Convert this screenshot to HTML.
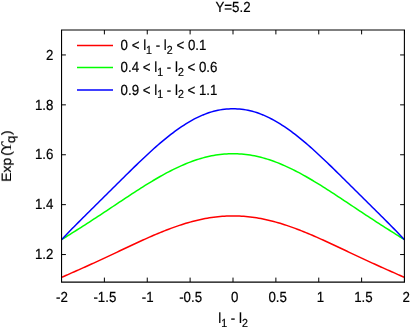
<!DOCTYPE html>
<html><head><meta charset="utf-8"><title>plot</title>
<style>
html,body{margin:0;padding:0;background:#fff;}
body{width:410px;height:327px;overflow:hidden;}
svg{display:block;}
text{font-family:"Liberation Sans",sans-serif;fill:#000;stroke:#000;stroke-width:0.2px;filter:url(#tf);text-rendering:geometricPrecision;}
</style></head><body>
<svg width="410" height="327" viewBox="0 0 410 327">
<defs><filter id="tf" x="-10%" y="-30%" width="120%" height="160%"><feGaussianBlur stdDeviation="0.22"/></filter></defs>
<rect width="410" height="327" fill="#fff"/>
<path d="M61.50,277.44 L63.64,276.48 L65.79,275.53 L67.93,274.57 L70.08,273.62 L72.22,272.67 L74.36,271.72 L76.51,270.77 L78.65,269.82 L80.79,268.87 L82.94,267.91 L85.08,266.95 L87.23,265.98 L89.37,265.01 L91.51,264.04 L93.66,263.06 L95.80,262.08 L97.94,261.09 L100.09,260.10 L102.23,259.11 L104.38,258.11 L106.52,257.11 L108.66,256.10 L110.81,255.10 L112.95,254.09 L115.09,253.07 L117.24,252.06 L119.38,251.05 L121.53,250.03 L123.67,249.02 L125.81,248.01 L127.96,247.00 L130.10,245.99 L132.24,244.99 L134.39,243.99 L136.53,242.99 L138.68,242.00 L140.82,241.02 L142.96,240.04 L145.11,239.08 L147.25,238.12 L149.39,237.17 L151.54,236.23 L153.68,235.30 L155.82,234.39 L157.97,233.48 L160.11,232.60 L162.26,231.72 L164.40,230.87 L166.54,230.03 L168.69,229.20 L170.83,228.40 L172.98,227.61 L175.12,226.85 L177.26,226.10 L179.41,225.38 L181.55,224.67 L183.69,223.99 L185.84,223.34 L187.98,222.71 L190.12,222.10 L192.27,221.52 L194.41,220.96 L196.56,220.43 L198.70,219.93 L200.84,219.46 L202.99,219.01 L205.13,218.59 L207.28,218.20 L209.42,217.85 L211.56,217.52 L213.71,217.22 L215.85,216.95 L217.99,216.71 L220.14,216.51 L222.28,216.33 L224.42,216.19 L226.57,216.08 L228.71,216.00 L230.86,215.95 L233.00,215.93 L235.14,215.95 L237.29,216.00 L239.43,216.08 L241.58,216.19 L243.72,216.33 L245.86,216.51 L248.01,216.71 L250.15,216.95 L252.29,217.22 L254.44,217.52 L256.58,217.85 L258.73,218.20 L260.87,218.59 L263.01,219.01 L265.16,219.46 L267.30,219.93 L269.44,220.43 L271.59,220.96 L273.73,221.52 L275.88,222.10 L278.02,222.71 L280.16,223.34 L282.31,223.99 L284.45,224.67 L286.59,225.38 L288.74,226.10 L290.88,226.85 L293.02,227.61 L295.17,228.40 L297.31,229.20 L299.46,230.03 L301.60,230.87 L303.74,231.72 L305.89,232.60 L308.03,233.48 L310.17,234.39 L312.32,235.30 L314.46,236.23 L316.61,237.17 L318.75,238.12 L320.89,239.08 L323.04,240.04 L325.18,241.02 L327.32,242.00 L329.47,242.99 L331.61,243.99 L333.76,244.99 L335.90,245.99 L338.04,247.00 L340.19,248.01 L342.33,249.02 L344.47,250.03 L346.62,251.05 L348.76,252.06 L350.91,253.07 L353.05,254.09 L355.19,255.10 L357.34,256.10 L359.48,257.11 L361.62,258.11 L363.77,259.11 L365.91,260.10 L368.06,261.09 L370.20,262.08 L372.34,263.06 L374.49,264.04 L376.63,265.01 L378.78,265.98 L380.92,266.95 L383.06,267.91 L385.21,268.87 L387.35,269.82 L389.49,270.77 L391.64,271.72 L393.78,272.67 L395.93,273.62 L398.07,274.57 L400.21,275.53 L402.36,276.48 L404.50,277.44" fill="none" stroke="#ff0000" stroke-width="1.5" stroke-linejoin="round"/>
<path d="M61.50,239.71 L63.64,238.35 L65.79,237.00 L67.93,235.66 L70.08,234.31 L72.22,232.96 L74.36,231.60 L76.51,230.25 L78.65,228.89 L80.79,227.52 L82.94,226.16 L85.08,224.78 L87.23,223.40 L89.37,222.02 L91.51,220.63 L93.66,219.24 L95.80,217.84 L97.94,216.43 L100.09,215.02 L102.23,213.61 L104.38,212.19 L106.52,210.77 L108.66,209.35 L110.81,207.92 L112.95,206.50 L115.09,205.07 L117.24,203.64 L119.38,202.21 L121.53,200.79 L123.67,199.36 L125.81,197.94 L127.96,196.53 L130.10,195.11 L132.24,193.71 L134.39,192.31 L136.53,190.92 L138.68,189.54 L140.82,188.17 L142.96,186.82 L145.11,185.47 L147.25,184.14 L149.39,182.82 L151.54,181.52 L153.68,180.24 L155.82,178.98 L157.97,177.73 L160.11,176.51 L162.26,175.30 L164.40,174.12 L166.54,172.96 L168.69,171.83 L170.83,170.73 L172.98,169.65 L175.12,168.59 L177.26,167.57 L179.41,166.58 L181.55,165.62 L183.69,164.69 L185.84,163.79 L187.98,162.92 L190.12,162.09 L192.27,161.30 L194.41,160.54 L196.56,159.82 L198.70,159.13 L200.84,158.49 L202.99,157.88 L205.13,157.31 L207.28,156.78 L209.42,156.29 L211.56,155.85 L213.71,155.44 L215.85,155.07 L217.99,154.75 L220.14,154.47 L222.28,154.23 L224.42,154.04 L226.57,153.89 L228.71,153.78 L230.86,153.71 L233.00,153.69 L235.14,153.71 L237.29,153.78 L239.43,153.89 L241.58,154.04 L243.72,154.23 L245.86,154.47 L248.01,154.75 L250.15,155.07 L252.29,155.44 L254.44,155.85 L256.58,156.29 L258.73,156.78 L260.87,157.31 L263.01,157.88 L265.16,158.49 L267.30,159.13 L269.44,159.82 L271.59,160.54 L273.73,161.30 L275.88,162.09 L278.02,162.92 L280.16,163.79 L282.31,164.69 L284.45,165.62 L286.59,166.58 L288.74,167.57 L290.88,168.59 L293.02,169.65 L295.17,170.73 L297.31,171.83 L299.46,172.96 L301.60,174.12 L303.74,175.30 L305.89,176.51 L308.03,177.73 L310.17,178.98 L312.32,180.24 L314.46,181.52 L316.61,182.82 L318.75,184.14 L320.89,185.47 L323.04,186.82 L325.18,188.17 L327.32,189.54 L329.47,190.92 L331.61,192.31 L333.76,193.71 L335.90,195.11 L338.04,196.53 L340.19,197.94 L342.33,199.36 L344.47,200.79 L346.62,202.21 L348.76,203.64 L350.91,205.07 L353.05,206.50 L355.19,207.92 L357.34,209.35 L359.48,210.77 L361.62,212.19 L363.77,213.61 L365.91,215.02 L368.06,216.43 L370.20,217.84 L372.34,219.24 L374.49,220.63 L376.63,222.02 L378.78,223.40 L380.92,224.78 L383.06,226.16 L385.21,227.52 L387.35,228.89 L389.49,230.25 L391.64,231.60 L393.78,232.96 L395.93,234.31 L398.07,235.66 L400.21,237.00 L402.36,238.35 L404.50,239.71" fill="none" stroke="#00ff00" stroke-width="1.5" stroke-linejoin="round"/>
<path d="M61.50,239.82 L63.64,237.52 L65.79,235.26 L67.93,233.02 L70.08,230.80 L72.22,228.60 L74.36,226.43 L76.51,224.26 L78.65,222.11 L80.79,219.96 L82.94,217.83 L85.08,215.70 L87.23,213.57 L89.37,211.45 L91.51,209.32 L93.66,207.20 L95.80,205.08 L97.94,202.96 L100.09,200.84 L102.23,198.71 L104.38,196.58 L106.52,194.46 L108.66,192.33 L110.81,190.20 L112.95,188.07 L115.09,185.94 L117.24,183.81 L119.38,181.68 L121.53,179.55 L123.67,177.43 L125.81,175.31 L127.96,173.20 L130.10,171.10 L132.24,169.00 L134.39,166.91 L136.53,164.84 L138.68,162.77 L140.82,160.73 L142.96,158.69 L145.11,156.68 L147.25,154.68 L149.39,152.70 L151.54,150.75 L153.68,148.81 L155.82,146.91 L157.97,145.03 L160.11,143.18 L162.26,141.36 L164.40,139.58 L166.54,137.83 L168.69,136.11 L170.83,134.44 L172.98,132.80 L175.12,131.20 L177.26,129.65 L179.41,128.14 L181.55,126.67 L183.69,125.26 L185.84,123.89 L187.98,122.58 L190.12,121.32 L192.27,120.11 L194.41,118.96 L196.56,117.86 L198.70,116.82 L200.84,115.85 L202.99,114.93 L205.13,114.08 L207.28,113.29 L209.42,112.56 L211.56,111.90 L213.71,111.30 L215.85,110.76 L217.99,110.29 L220.14,109.88 L222.28,109.54 L224.42,109.26 L226.57,109.04 L228.71,108.88 L230.86,108.79 L233.00,108.76 L235.14,108.79 L237.29,108.88 L239.43,109.04 L241.58,109.26 L243.72,109.54 L245.86,109.88 L248.01,110.29 L250.15,110.76 L252.29,111.30 L254.44,111.90 L256.58,112.56 L258.73,113.29 L260.87,114.08 L263.01,114.93 L265.16,115.85 L267.30,116.82 L269.44,117.86 L271.59,118.96 L273.73,120.11 L275.88,121.32 L278.02,122.58 L280.16,123.89 L282.31,125.26 L284.45,126.67 L286.59,128.14 L288.74,129.65 L290.88,131.20 L293.02,132.80 L295.17,134.44 L297.31,136.11 L299.46,137.83 L301.60,139.58 L303.74,141.36 L305.89,143.18 L308.03,145.03 L310.17,146.91 L312.32,148.81 L314.46,150.75 L316.61,152.70 L318.75,154.68 L320.89,156.68 L323.04,158.69 L325.18,160.73 L327.32,162.77 L329.47,164.84 L331.61,166.91 L333.76,169.00 L335.90,171.10 L338.04,173.20 L340.19,175.31 L342.33,177.43 L344.47,179.55 L346.62,181.68 L348.76,183.81 L350.91,185.94 L353.05,188.07 L355.19,190.20 L357.34,192.33 L359.48,194.46 L361.62,196.58 L363.77,198.71 L365.91,200.84 L368.06,202.96 L370.20,205.08 L372.34,207.20 L374.49,209.32 L376.63,211.45 L378.78,213.57 L380.92,215.70 L383.06,217.83 L385.21,219.96 L387.35,222.11 L389.49,224.26 L391.64,226.43 L393.78,228.60 L395.93,230.80 L398.07,233.02 L400.21,235.26 L402.36,237.52 L404.50,239.82" fill="none" stroke="#0000ff" stroke-width="1.5" stroke-linejoin="round"/>
<path d="M61.0,30.0 H405.0" stroke="#000" stroke-width="1"/>
<path d="M61.0,282.1 H405.0" stroke="#000" stroke-width="1.4"/>
<path d="M61.55,30.0 V282.0" stroke="#000" stroke-width="1.1"/>
<path d="M404.4,30.0 V282.0" stroke="#000" stroke-width="1.1"/>
<path d="M61.50,282.0 v-4.4 M61.50,30.0 v4.4" stroke="#000" stroke-width="1"/>
<text transform="translate(62.0,301.7) scale(1,1.1)" text-anchor="middle" font-size="13.3">-2</text>
<path d="M104.38,282.0 v-4.4 M104.38,30.0 v4.4" stroke="#000" stroke-width="1"/>
<text transform="translate(104.88,301.7) scale(1,1.1)" text-anchor="middle" font-size="13.3">-1.5</text>
<path d="M147.25,282.0 v-4.4 M147.25,30.0 v4.4" stroke="#000" stroke-width="1"/>
<text transform="translate(147.75,301.7) scale(1,1.1)" text-anchor="middle" font-size="13.3">-1</text>
<path d="M190.12,282.0 v-4.4 M190.12,30.0 v4.4" stroke="#000" stroke-width="1"/>
<text transform="translate(190.62,301.7) scale(1,1.1)" text-anchor="middle" font-size="13.3">-0.5</text>
<path d="M233.00,282.0 v-4.4 M233.00,30.0 v4.4" stroke="#000" stroke-width="1"/>
<text transform="translate(234.8,301.7) scale(1,1.1)" text-anchor="middle" font-size="13.3">0</text>
<path d="M275.88,282.0 v-4.4 M275.88,30.0 v4.4" stroke="#000" stroke-width="1"/>
<text transform="translate(277.68,301.7) scale(1,1.1)" text-anchor="middle" font-size="13.3">0.5</text>
<path d="M318.75,282.0 v-4.4 M318.75,30.0 v4.4" stroke="#000" stroke-width="1"/>
<text transform="translate(320.55,301.7) scale(1,1.1)" text-anchor="middle" font-size="13.3">1</text>
<path d="M361.62,282.0 v-4.4 M361.62,30.0 v4.4" stroke="#000" stroke-width="1"/>
<text transform="translate(363.43,301.7) scale(1,1.1)" text-anchor="middle" font-size="13.3">1.5</text>
<path d="M404.50,282.0 v-4.4 M404.50,30.0 v4.4" stroke="#000" stroke-width="1"/>
<text transform="translate(406.3,301.7) scale(1,1.1)" text-anchor="middle" font-size="13.3">2</text>
<path d="M61.5,254.55 h4.4 M404.5,254.55 h-4.4" stroke="#000" stroke-width="1"/>
<text transform="translate(53.4,259.25) scale(1,1.1)" text-anchor="end" font-size="13.3">1.2</text>
<path d="M61.5,204.65 h4.4 M404.5,204.65 h-4.4" stroke="#000" stroke-width="1"/>
<text transform="translate(53.4,209.35) scale(1,1.1)" text-anchor="end" font-size="13.3">1.4</text>
<path d="M61.5,154.75 h4.4 M404.5,154.75 h-4.4" stroke="#000" stroke-width="1"/>
<text transform="translate(53.4,159.45) scale(1,1.1)" text-anchor="end" font-size="13.3">1.6</text>
<path d="M61.5,104.85 h4.4 M404.5,104.85 h-4.4" stroke="#000" stroke-width="1"/>
<text transform="translate(53.4,109.55) scale(1,1.1)" text-anchor="end" font-size="13.3">1.8</text>
<path d="M61.5,54.95 h4.4 M404.5,54.95 h-4.4" stroke="#000" stroke-width="1"/>
<text transform="translate(53.4,59.65) scale(1,1.1)" text-anchor="end" font-size="13.3">2</text>
<text transform="translate(233,12.3) scale(1,1.1)" text-anchor="middle" font-size="13.3">Y=5.2</text>
<path d="M77,45.4 H113" stroke="#ff0000" stroke-width="1.5"/>
<text transform="translate(120.6,49.8) scale(1,1.1)" text-anchor="start" font-size="13.3">0 &lt; l<tspan dy="3.6" font-size="10.64">1</tspan><tspan dy="-3.6"> - l</tspan><tspan dy="3.6" font-size="10.64">2</tspan><tspan dy="-3.6"> &lt; 0.1</tspan></text>
<path d="M77,67.6 H113" stroke="#00ff00" stroke-width="1.5"/>
<text transform="translate(120.6,72.0) scale(1,1.1)" text-anchor="start" font-size="13.3">0.4 &lt; l<tspan dy="3.6" font-size="10.64">1</tspan><tspan dy="-3.6"> - l</tspan><tspan dy="3.6" font-size="10.64">2</tspan><tspan dy="-3.6"> &lt; 0.6</tspan></text>
<path d="M77,90.1 H113" stroke="#0000ff" stroke-width="1.5"/>
<text transform="translate(120.6,94.5) scale(1,1.1)" text-anchor="start" font-size="13.3">0.9 &lt; l<tspan dy="3.6" font-size="10.64">1</tspan><tspan dy="-3.6"> - l</tspan><tspan dy="3.6" font-size="10.64">2</tspan><tspan dy="-3.6"> &lt; 1.1</tspan></text>
<text transform="translate(233,322.5) scale(1,1.1)" text-anchor="middle" font-size="13.3">l<tspan dy="4.0" font-size="10.64">1</tspan><tspan dy="-4.0"> - l</tspan><tspan dy="4.0" font-size="10.64">2</tspan></text>
<text transform="translate(11.0,156.1) rotate(-90) scale(1.05,1)" text-anchor="middle" font-size="13.3">Exp<tspan dx="1.9">(</tspan><tspan dx="-1.7" font-family="Liberation Serif, serif" font-size="14.8">&#x3d2;</tspan><tspan dx="-1.4" dy="3.6" font-size="12.6">q</tspan><tspan dx="0.7" dy="-3.6" font-size="13.3">)</tspan></text>
</svg></body></html>
